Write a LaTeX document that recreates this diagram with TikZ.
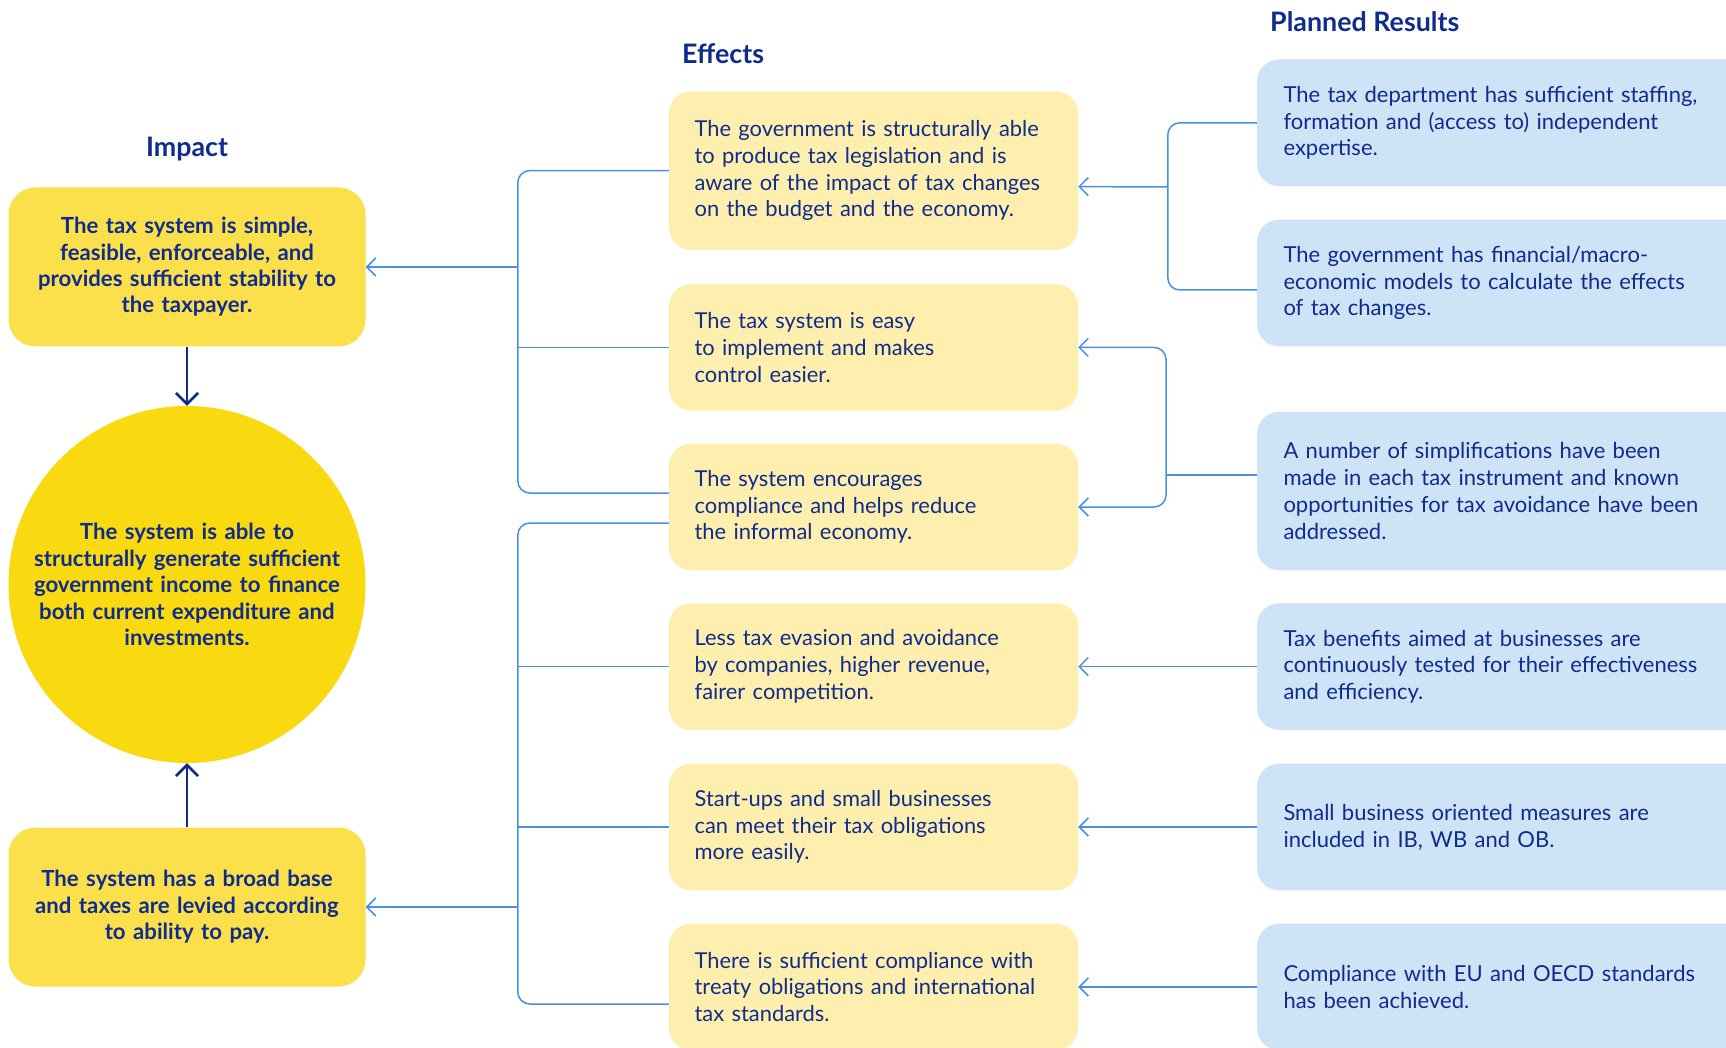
\documentclass[tikz,border=0pt]{standalone}
\usepackage{fontspec}
\setmainfont{Lato}
\usetikzlibrary{arrows.meta,calc}
\definecolor{navy}{HTML}{0F2B8C}
\definecolor{connblue}{HTML}{4A90E2}
\definecolor{impactY}{HTML}{FBE04B}
\definecolor{circY}{HTML}{F9DA10}
\definecolor{effY}{HTML}{FFEFAE}
\definecolor{planB}{HTML}{CFE3F6}
\begin{document}
\begin{tikzpicture}[x=1pt,y=-1pt,
  impactbox/.style={rectangle, rounded corners=27pt, fill=impactY, minimum width=357pt, minimum height=159pt, text width=340pt, align=center, inner sep=0pt, text=navy, font=\fontsize{22.2}{26.4}\selectfont\bfseries},
  effbox/.style={rectangle, rounded corners=22pt, fill=effY, inner xsep=25.6pt, inner ysep=0pt, text width=357.8pt, minimum height=126.6pt, align=left, text=navy, font=\fontsize{21.9}{26.8}\selectfont},
  planbox/.style={rectangle, rounded corners=22pt, fill=planB, inner xsep=26.5pt, inner ysep=0pt, text width=447pt, minimum height=126.6pt, align=left, text=navy, font=\fontsize{22}{26.8}\selectfont},
  title/.style={text=navy, font=\fontsize{26.8}{30}\selectfont\bfseries, inner sep=0pt},
  conn/.style={draw=connblue, line width=1.5pt},
  carrow/.style={conn, -{Straight Barb[length=9pt,width=18pt]}},
  navyarrow/.style={draw=navy, line width=2.6pt, -{Straight Barb[length=11pt,width=22pt]}}
]
\useasboundingbox (0,0) rectangle (1726,1048);
\clip (0,0) rectangle (1726,1048);
\fill[white] (0,0) rectangle (1726,1048);

% titles
\node[title] (tImpact) at (187,149) {Impact};
\node[title, anchor=west] (tEffects) at (682,54) {Effects};
\node[title, anchor=west] (tPlanned) at (1270,22) {Planned Results};

% impact column
\node[impactbox] (I1) at (187,267) {The tax system is simple,\\feasible, enforceable, and\\provides sufficient stability to\\the taxpayer.};
\node[circle, fill=circY, minimum size=357pt, inner sep=0pt, text width=330pt, align=center, text=navy, font=\fontsize{22.2}{26.4}\selectfont\bfseries] (C) at (187,584.5) {The system is able to\\structurally generate sufficient\\government income to finance\\both current expenditure and\\investments.};
\node[impactbox] (I3) at (187,907) {The system has a broad base\\and taxes are levied according\\to ability to pay.};

% effects column
\node[effbox, minimum height=158.5pt] (E1) at (873.5,170.6) {The government is structurally able\\to produce tax legislation and is\\aware of the impact of tax changes\\on the budget and the economy.};
\node[effbox] (E2) at (873.5,347.4) {The tax system is easy\\to implement and makes\\control easier.};
\node[effbox] (E3) at (873.5,507) {The system encourages\\compliance and helps reduce\\the informal economy.};
\node[effbox] (E4) at (873.5,666.6) {Less tax evasion and avoidance\\by companies, higher revenue,\\fairer competition.};
\node[effbox] (E5) at (873.5,827) {Start-ups and small businesses\\can meet their tax obligations\\more easily.};
\node[effbox] (E6) at (873.5,987) {There is sufficient compliance with\\treaty obligations and international\\tax standards.};

% planned results column
\node[planbox] (P1) at (1507,122.8) {The tax department has sufficient staffing,\\formation and (access to) independent\\expertise.};
\node[planbox] (P2) at (1507,283) {The government has financial/macro-\\economic models to calculate the effects\\of tax changes.};
\node[planbox, minimum height=158.5pt] (P3) at (1507,491) {A number of simplifications have been\\made in each tax instrument and known\\opportunities for tax avoidance have been\\addressed.};
\node[planbox] (P4) at (1507,666.6) {Tax benefits aimed at businesses are\\continuously tested for their effectiveness\\and efficiency.};
\node[planbox] (P5) at (1507,827) {Small business oriented measures are\\included in IB, WB and OB.};
\node[planbox] (P6) at (1507,987) {Compliance with EU and OECD standards\\has been achieved.};

% navy arrows
\draw[navyarrow] (I1.south) -- (C.north);
\draw[navyarrow] (I3.north) -- (C.south);

% left brackets
\coordinate (LT) at (518,267);
\coordinate (LB) at (518,907);
\draw[conn, rounded corners=12pt] (E1.west) -| ($(E3.west)+(-151,-14)$) -- ($(E3.west)+(0,-14)$);
\draw[conn] (E2.west) -- ++(-151,0);
\draw[carrow] (LT) -- (I1.east);
\draw[conn, rounded corners=12pt] ($(E3.west)+(0,16)$) -| ($(E6.west)+(-151,17)$) -- ($(E6.west)+(0,17)$);
\draw[conn] (E4.west) -- ++(-151,0);
\draw[conn] (E5.west) -- ++(-151,0);
\draw[carrow] (LB) -- (I3.east);

% right brackets
\coordinate (RT) at (1168,187);
\draw[conn, rounded corners=12pt] (P1.west) -| ($(P2.west)+(-89,7)$) -- ($(P2.west)+(0,7)$);
\draw[carrow] (RT) -- ($(E1.east)+(0,16)$);
\coordinate (RM) at (1166,475);
\draw[conn, rounded corners=12pt, {Straight Barb[length=9pt,width=18pt]}-{Straight Barb[length=9pt,width=18pt]}] (E2.east) -| (RM) |- (E3.east);
\draw[conn] ($(P3.west)+(0,-16)$) -- (RM);
\draw[carrow] (P4.west) -- (E4.east);
\draw[carrow] (P5.west) -- (E5.east);
\draw[carrow] (P6.west) -- (E6.east);
\end{tikzpicture}
\end{document}
